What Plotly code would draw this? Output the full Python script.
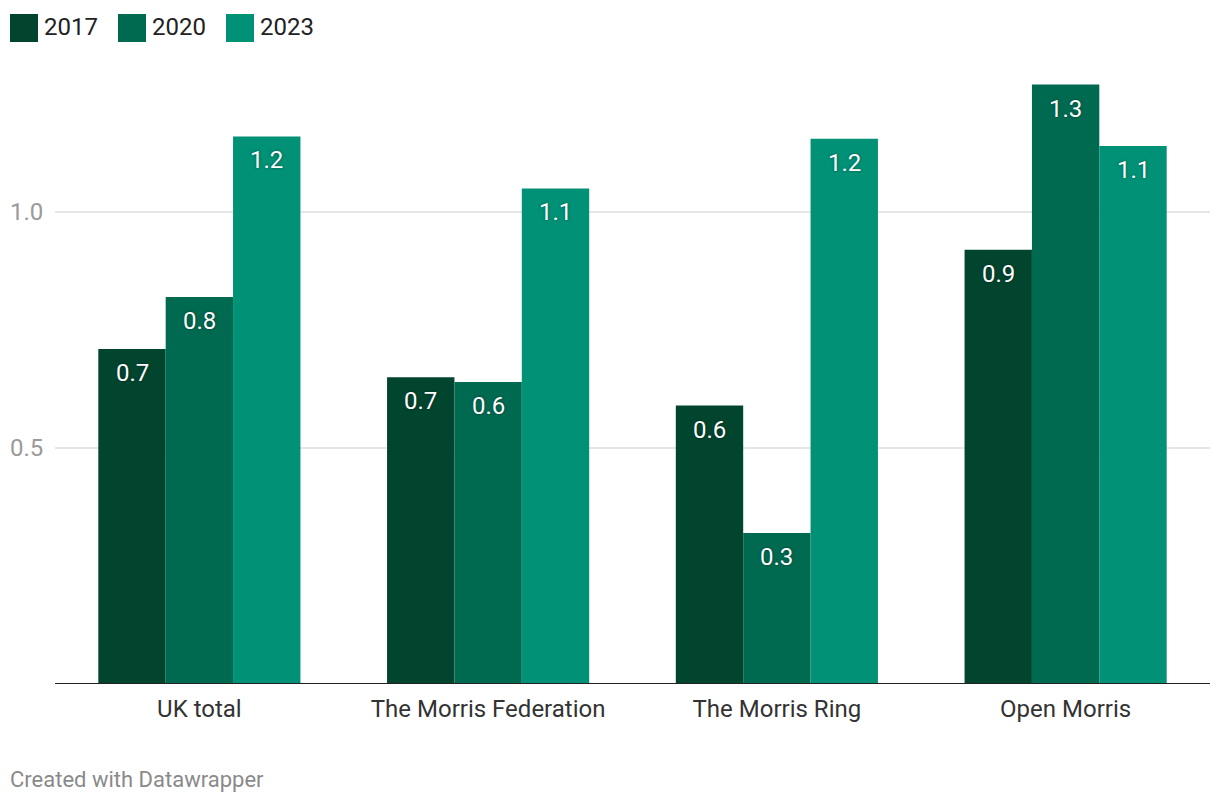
import plotly.graph_objects as go

categories = ["UK total", "The Morris Federation", "The Morris Ring", "Open Morris"]
years = ["2017", "2020", "2023"]
values_2017 = [0.71, 0.65, 0.59, 0.92]
values_2020 = [0.82, 0.64, 0.32, 1.27]
values_2023 = [1.16, 1.05, 1.155, 1.14]
tick_values = [0.5, 1.0]
tick_labels = ["0.5", "1.0"]
colors = ["#01452f", "#006a51", "#009176"]
series = [values_2017, values_2020, values_2023]

W, H = 1220, 806
ML, MR, MT, MB = 55, 10, 60, 122
px_per_unit = 472.0
plot_h = H - MT - MB
plot_w = W - ML - MR
ymax = plot_h / px_per_unit

fig = go.Figure()
for yr, vals, col in zip(years, series, colors):
    fig.add_trace(go.Bar(
        x=categories, y=vals, name=yr, marker=dict(color=col, line=dict(width=0)),
        showlegend=False, hoverinfo="skip",
    ))

offsets = [-1, 0, 1]
annotations = []
for i, (yr, vals) in enumerate(zip(years, series)):
    for j, (c, v) in enumerate(zip(categories, vals)):
        annotations.append(dict(
            x=j + offsets[i] * (0.7 / 3), y=v, xref="x", yref="y",
            text=f"{v:.1f}", showarrow=False, yanchor="middle", yshift=-24,
            font=dict(family="Roboto", size=24, color="white",
                      shadow="0px 0px 3px rgba(0,0,0,0.45)"),
        ))


def px_to_paper_x(px):
    return (px - ML) / plot_w


def px_to_paper_y(py):
    return (H - MB - py) / plot_h


shapes = []
leg_x = [10, 118, 226]
for i, (yr, col) in enumerate(zip(years, colors)):
    x0 = leg_x[i]
    shapes.append(dict(type="rect", xref="paper", yref="paper",
                       x0=px_to_paper_x(x0), x1=px_to_paper_x(x0 + 28),
                       y0=px_to_paper_y(42), y1=px_to_paper_y(14),
                       fillcolor=col, line=dict(width=0), layer="above"))
    annotations.append(dict(xref="paper", yref="paper",
                            x=px_to_paper_x(x0 + 32), y=px_to_paper_y(27),
                            xanchor="left", yanchor="middle", showarrow=False,
                            text=yr, font=dict(family="Roboto", size=24, color="#222222")))

shapes.append(dict(type="line", xref="paper", yref="y", x0=0, x1=1, y0=0, y1=0,
                   line=dict(color="#222222", width=2), layer="above"))

for tv, tl in zip(tick_values, tick_labels):
    annotations.append(dict(xref="paper", yref="y", x=px_to_paper_x(8), y=tv,
                            xanchor="left", yanchor="middle", showarrow=False,
                            text=tl, font=dict(family="Roboto", size=24, color="#9a9a9a")))

annotations.append(dict(xref="paper", yref="paper", x=px_to_paper_x(8), y=px_to_paper_y(780),
                        xanchor="left", yanchor="middle", showarrow=False,
                        text="Created with Datawrapper",
                        font=dict(family="Roboto", size=22, color="#8a8a8a")))

fig.update_layout(
    width=W, height=H,
    margin=dict(l=ML, r=MR, t=MT, b=MB),
    paper_bgcolor="white", plot_bgcolor="white",
    barmode="group", bargap=0.3, bargroupgap=0,
    font=dict(family="Roboto", size=24, color="#333333"),
    xaxis=dict(showgrid=False, showline=False, ticks="", tickfont=dict(size=24, color="#333333"),
               ticklabelstandoff=8),
    yaxis=dict(range=[0, ymax], tickvals=tick_values, showticklabels=False,
               showgrid=True, gridcolor="#e6e6e6", gridwidth=2, zeroline=False, showline=False),
    shapes=shapes, annotations=annotations,
)

fig.write_html("out.html", config={"displayModeBar": False, "staticPlot": True},
               post_script="document.body.style.margin='0';document.body.style.overflow='hidden';")
